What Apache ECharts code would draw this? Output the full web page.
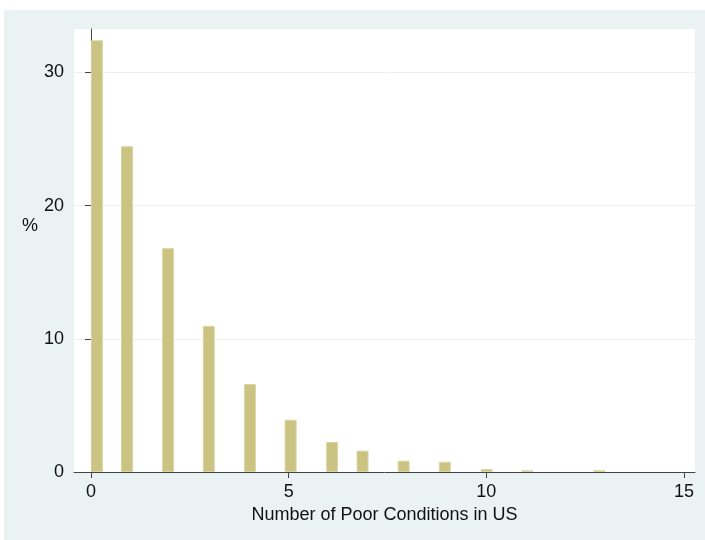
<!DOCTYPE html>
<html>
<head>
<meta charset="utf-8">
<script src="https://cdn.jsdelivr.net/npm/echarts@6/dist/echarts.min.js"></script>
<style>
  html, body { margin: 0; padding: 0; background: #ffffff; }
  #main { position: absolute; left: 4px; top: 10px; width: 701px; height: 530px; background: #eaf2f3; }
</style>
</head>
<body>
<div id="main"></div>
<script>
// bar positions (as drawn in the histogram) and heights in percent
var binCenters = [0.15, 0.91, 1.95, 2.98, 4.02, 5.05, 6.1, 6.87, 7.91, 8.95, 10.01, 11.04, 12.86];
var percents = [32.4, 24.45, 16.8, 10.97, 6.6, 3.92, 2.25, 1.6, 0.85, 0.77, 0.22, 0.13, 0.13];
var xTicks = [0, 5, 10, 15];
var yTicks = [0, 10, 20, 30];

var chart = echarts.init(document.getElementById('main'));

var barData = [];
for (var i = 0; i < binCenters.length; i++) {
    barData.push([binCenters[i], percents[i]]);
}

var labelFont = { color: '#111', fontFamily: 'Liberation Sans, Arial, sans-serif', fontSize: 18 };

option = {
    animation: false,
    grid: {
        left: 70, top: 19, right: 10, bottom: 68,
        show: true, backgroundColor: '#ffffff', borderWidth: 0
    },
    xAxis: {
        type: 'value',
        min: -0.43,
        max: 15.28,
        name: 'Number of Poor Conditions in US',
        nameLocation: 'middle',
        nameGap: 30,
        nameTextStyle: labelFont,
        axisLine: { show: true, lineStyle: { color: '#444', width: 1 } },
        axisTick: { show: true, length: 6, customValues: xTicks, lineStyle: { color: '#444' } },
        axisLabel: { customValues: xTicks, margin: 11, color: '#111', fontFamily: 'Liberation Sans, Arial, sans-serif', fontSize: 18 },
        splitLine: { show: false }
    },
    yAxis: {
        type: 'value',
        min: 0,
        max: 33.25,
        axisLine: { show: true, lineStyle: { color: '#444', width: 1 } },
        axisTick: { show: true, length: 6, customValues: yTicks, lineStyle: { color: '#444' } },
        axisLabel: { customValues: yTicks, margin: 10, color: '#111', fontFamily: 'Liberation Sans, Arial, sans-serif', fontSize: 18 },
        splitLine: { show: true, lineStyle: { color: '#eaf2f3', width: 1 } }
    },
    graphic: [
        {
            type: 'text',
            left: 18,
            top: 207,
            style: { text: '%', fill: '#111', font: '18px "Liberation Sans", Arial, sans-serif' }
        }
    ],
    series: [
        {
            type: 'bar',
            data: barData,
            barWidth: 12,
            itemStyle: {
                color: '#cbc382',
                borderColor: '#dcd5a4',
                borderWidth: 1
            }
        }
    ]
};

chart.setOption(option);
</script>
</body>
</html>
